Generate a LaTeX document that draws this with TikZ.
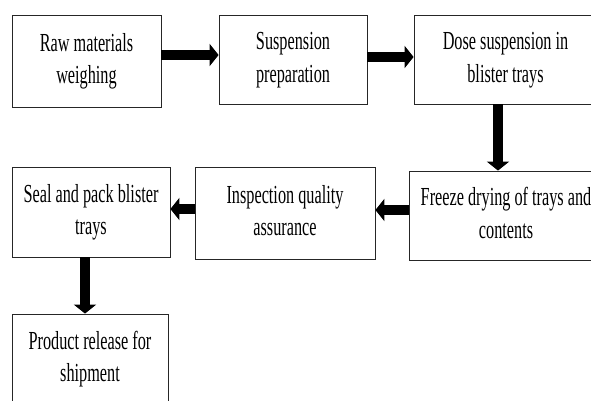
\documentclass[tikz,border=0pt]{standalone}
\usepackage{fontspec}
\setmainfont{Liberation Serif}[FakeStretch=0.625]
\usetikzlibrary{arrows.meta}
\begin{document}
\begin{tikzpicture}[x=1pt,y=-1pt,
  stepbox/.style={draw=black!85, line width=0.8pt, align=center, inner sep=0pt,
    font=\fontsize{26}{32.5}\selectfont},
  fat/.style={line width=9.5pt, -{Triangle[length=9pt,width=22pt]}}]
\useasboundingbox (0,0) rectangle (591,401);
\clip (0,0) rectangle (591,401);
\node[stepbox, minimum width=149pt, minimum height=92pt] (b1) at (86.5,61) {\strut Raw materials\\\strut weighing};
\node[stepbox, minimum width=148pt, minimum height=89pt] (b2) at (293,59.5) {\strut Suspension\\\strut preparation};
\node[stepbox, minimum width=183pt, minimum height=89pt] (b3) at (505.5,59.5) {\strut Dose suspension in\\\strut blister trays};
\node[stepbox, minimum width=194pt, minimum height=89pt] (b4) at (506,215.5) {\strut Freeze drying of trays and\\\strut contents};
\node[stepbox, minimum width=180pt, minimum height=92pt] (b5) at (285,213) {\strut Inspection quality\\\strut assurance};
\node[stepbox, minimum width=158pt, minimum height=90pt] (b6) at (91,212) {\strut Seal and pack blister\\\strut trays};
\node[stepbox, minimum width=156pt, minimum height=90pt] (b7) at (90,359) {\strut Product release for\\\strut shipment};
\coordinate (s1) at ([yshift=6pt]b1.east);
\coordinate (s2) at ([yshift=2.5pt]b2.east);
\coordinate (s3) at ([xshift=-7.5pt]b3.south);
\coordinate (s4) at ([yshift=5.5pt]b4.west);
\coordinate (s5) at ([yshift=4pt]b5.west);
\coordinate (s6) at ([xshift=-6pt]b6.south);
\draw[fat] (s1) -- (s1 -| b2.west);
\draw[fat] (s2) -- (s2 -| b3.west);
\draw[fat] (s3) -- (s3 |- b4.north);
\draw[fat] (s4) -- (s4 -| b5.east);
\draw[fat] (s5) -- (s5 -| b6.east);
\draw[fat] (s6) -- (s6 |- b7.north);
\end{tikzpicture}
\end{document}
